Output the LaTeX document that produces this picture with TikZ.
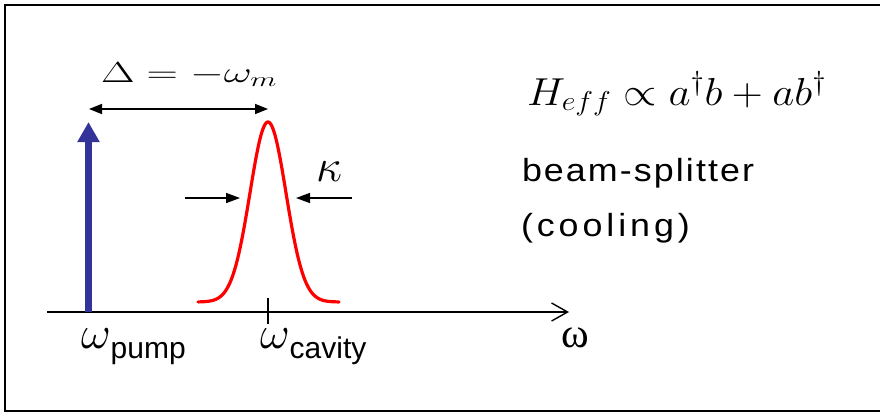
\RequirePackage{fix-cm}
\documentclass[tikz,border=0pt]{standalone}
\usepackage{fontspec}
\usepackage{graphicx}
\newfontfamily\arial{Liberation Sans}
\newfontfamily\arialA[LetterSpace=5.8]{Liberation Sans}
\newfontfamily\arialB[LetterSpace=11]{Liberation Sans}
\newfontfamily\timesf{Liberation Serif}
\usetikzlibrary{arrows.meta}
\definecolor{pumpblue}{RGB}{51,51,153}
\begin{document}
\begin{tikzpicture}[x=1pt,y=1pt,
  lbl/.style={inner sep=0pt, outer sep=0pt, anchor=base west},
  redline/.style={draw=red, line width=3.2pt, line cap=round, line join=round},
  thinarrow/.style={line width=1.5pt, -{Triangle[length=14pt,width=10pt]}},
  dblarrow/.style={line width=1.6pt, {Triangle[length=13pt,width=10pt]}-{Triangle[length=13pt,width=10pt]}},
]
\useasboundingbox (0,0) rectangle (880,-413);
% frame (open on the right)
\draw[line width=1.5pt] (880,-5) -- (5,-5) -- (5,-411) -- (880,-411);

% coordinates
\coordinate (o) at (47,-312);
\coordinate (axend) at (569,-312);
\coordinate (pb) at (88.5,-312);
\coordinate (pt) at (88.5,-122);
\coordinate (ctop) at (268,-298);
\coordinate (cbot) at (268,-324);
\coordinate (dl) at (89,-109);
\coordinate (dr) at (268,-109);
\coordinate (kl0) at (185,-198);
\coordinate (kl1) at (240,-198);
\coordinate (kr0) at (352,-198);
\coordinate (kr1) at (296,-198);

% frequency axis
\draw[line width=1.4pt, -{Straight Barb[length=16pt,width=18pt]}] (o) -- (axend);
% pump arrow
\draw[pumpblue, line width=7pt, -{Triangle[length=20pt,width=21pt]}] (pb) -- (pt);
% cavity tick
\draw[line width=1.2pt] (ctop) -- (cbot);
% cavity resonance
\draw[redline] plot[domain=-70:71, samples=121, smooth] ({268+\x},{-302+180*exp(-((\x)^2)/648)});
% detuning arrow
\draw[dblarrow] (dl) -- (dr);
% linewidth arrows
\draw[thinarrow] (kl0) -- (kl1);
\draw[thinarrow] (kr0) -- (kr1);

% labels
\node[lbl] (delta) at (101,-82) {\scalebox{1.5}[1]{\fontsize{29}{32}\selectfont$\Delta = -\omega_m$}};
\node[lbl] (kappa) at (316,-181) {\fontsize{46}{46}\selectfont$\kappa$};
\node[lbl] (heff) at (527,-105) {\scalebox{1.1}[1]{\fontsize{39}{42}\selectfont$H_{eff} \propto a^\dagger b + ab^\dagger$}};
\node[lbl] (bs1) at (522,-181) {\scalebox{1.12}[1]{\arialA\fontsize{32}{32}\selectfont beam-splitter}};
\node[lbl] (bs2) at (521,-236) {\scalebox{1.12}[1]{\arialB\fontsize{32}{32}\selectfont (cooling)}};
\node[lbl] (pump) at (81,-348) {\fontsize{46}{46}\selectfont$\omega$\raisebox{-10pt}{\arial\fontsize{30}{30}\selectfont pump}};
\node[lbl] (cav) at (260,-348) {\fontsize{46}{46}\selectfont$\omega$\raisebox{-10pt}{\arial\fontsize{30}{30}\selectfont cavity}};
\node[lbl] (omega) at (561,-347) {\timesf\fontsize{42}{42}\selectfont ω};
\end{tikzpicture}
\end{document}
